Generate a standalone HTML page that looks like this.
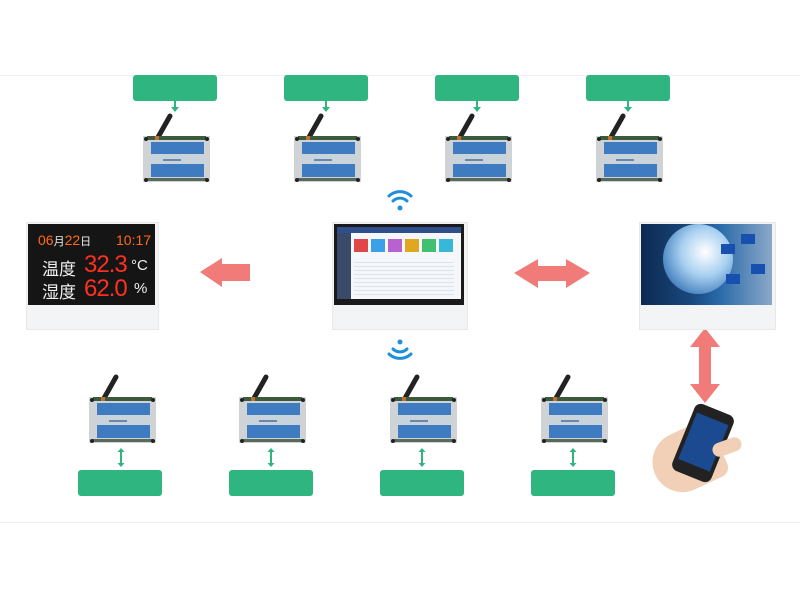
<!DOCTYPE html>
<html><head><meta charset="utf-8"><style>
body{margin:0;width:800px;height:600px;background:#fff;position:relative;overflow:hidden;font-family:"Liberation Sans","Noto Sans CJK SC",sans-serif}
.a{position:absolute}
.g{position:absolute;background:#2fb57f;border-radius:3px;width:84px;height:26px}
.line{position:absolute;left:0;width:800px;height:1px;background:#eef0f0}
</style></head><body>
<div class="line" style="top:75px"></div>
<div class="line" style="top:522px"></div>

<svg width="800" height="600" class="a" style="left:0;top:0">
<defs>
<g id="dev">
 <line x1="14" y1="27" x2="27" y2="4" stroke="#222" stroke-width="5" stroke-linecap="round"/>
 <rect x="0" y="24" width="67" height="46" fill="#cfd3d6" rx="1"/>
 <rect x="4" y="24" width="59" height="4" fill="#3c5a3c"/>
 <rect x="12" y="24" width="4" height="4" fill="#c07030"/>
 <rect x="8" y="30" width="53" height="12" fill="#3f7bc0"/>
 <rect x="8" y="42" width="53" height="10" fill="#c9d3dc"/>
 <rect x="20" y="47" width="18" height="2" fill="#6a86a8"/>
 <rect x="8" y="52" width="53" height="13" fill="#3f7bc0"/>
 <rect x="4" y="66" width="59" height="3" fill="#5a6a5a"/>
 <circle cx="3" cy="27" r="2" fill="#222"/><circle cx="64" cy="27" r="2" fill="#222"/>
 <circle cx="3" cy="68" r="2" fill="#222"/><circle cx="64" cy="68" r="2" fill="#222"/>
</g>
<g id="darr"><line x1="0" y1="3" x2="0" y2="16" stroke="#2fb57f" stroke-width="2"/><path d="M-3.5,4 L0,0 L3.5,4Z M-3.5,15 L0,19 L3.5,15Z" fill="#2fb57f"/></g>
</defs>
<!-- top devices -->
<use href="#dev" x="143" y="112"/><use href="#dev" x="294" y="112"/><use href="#dev" x="445" y="112"/><use href="#dev" x="596" y="112"/>
<!-- bottom devices -->
<use href="#dev" x="89" y="373"/><use href="#dev" x="239" y="373"/><use href="#dev" x="390" y="373"/><use href="#dev" x="541" y="373"/>
<!-- top down arrows -->
<g fill="#2fb57f" stroke="#2fb57f" stroke-width="2">
<line x1="175" y1="101" x2="175" y2="108"/><line x1="326" y1="101" x2="326" y2="108"/><line x1="477" y1="101" x2="477" y2="108"/><line x1="628" y1="101" x2="628" y2="108"/>
</g>
<g fill="#2fb57f"><path d="M171,107 L179,107 L175,112Z M322,107 L330,107 L326,112Z M473,107 L481,107 L477,112Z M624,107 L632,107 L628,112Z"/></g>
<use href="#darr" x="121" y="448"/><use href="#darr" x="271" y="448"/><use href="#darr" x="422" y="448"/><use href="#darr" x="573" y="448"/>
<!-- red arrows -->
<path d="M200,272 L222,258 L222,264 L250,264 L250,281 L222,281 L222,287Z" fill="#f07b78"/>
<path d="M514,273 L538,259 L538,266 L566,266 L566,259 L590,273 L566,288 L566,281 L538,281 L538,288Z" fill="#f07b78"/>
<path d="M705,328 L720,347 L711,347 L711,384 L720,384 L705,403 L690,384 L699,384 L699,347 L690,347Z" fill="#f07b78"/>
<!-- wifi -->
<g fill="none" stroke="#1e8fd8" stroke-width="3" stroke-linecap="round">
<path d="M389,196 A16,16 0 0 1 411,196"/><path d="M393,201 A10,10 0 0 1 407,201"/>
<path d="M389,354 A16,16 0 0 0 411,354"/><path d="M393,349 A10,10 0 0 0 407,349"/>
</g>
<circle cx="400" cy="208" r="2.5" fill="#1e8fd8"/><circle cx="400" cy="342" r="2.5" fill="#1e8fd8"/>
</svg>

<div class="g" style="left:133px;top:75px"></div><div class="g" style="left:284px;top:75px"></div><div class="g" style="left:435px;top:75px"></div><div class="g" style="left:586px;top:75px"></div>
<div class="g" style="left:78px;top:470px"></div><div class="g" style="left:229px;top:470px"></div><div class="g" style="left:380px;top:470px"></div><div class="g" style="left:531px;top:470px"></div>

<!-- LED display -->
<div class="a" style="left:26px;top:222px;width:131px;height:106px;background:#f3f4f5;border:1px solid #e8e8e8"></div>
<div class="a" style="left:28px;top:224px;width:127px;height:81px;background:#151515;color:#f0f0f0">
 <div class="a" style="left:10px;top:8px;font-size:14px;color:#ff6a1a;white-space:nowrap">06<span style="font-size:11px;color:#eee">月</span>22<span style="font-size:11px;color:#eee">日</span></div>
 <div class="a" style="left:88px;top:8px;font-size:14px;color:#ff6a1a">10:17</div>
 <div class="a" style="left:14px;top:31px;font-size:17px">温度</div>
 <div class="a" style="left:56px;top:27px;font-size:24px;color:#ff3020;letter-spacing:-1px">32.3</div>
 <div class="a" style="left:103px;top:33px;font-size:15px">°C</div>
 <div class="a" style="left:14px;top:54px;font-size:17px">湿度</div>
 <div class="a" style="left:56px;top:51px;font-size:24px;color:#ff3020;letter-spacing:-1px">62.0</div>
 <div class="a" style="left:106px;top:56px;font-size:15px">%</div>
</div>

<!-- center tablet -->
<div class="a" style="left:332px;top:222px;width:134px;height:106px;background:#f3f4f5;border:1px solid #e8e8e8"></div>
<div class="a" style="left:334px;top:224px;width:130px;height:81px;background:#1a1a1a">
 <div class="a" style="left:3px;top:3px;width:124px;height:72px;background:#f5f7fa"></div>
 <div class="a" style="left:3px;top:3px;width:124px;height:6px;background:#2f4e8c"></div>
 <div class="a" style="left:3px;top:9px;width:14px;height:66px;background:#3a4a6a"></div>
 <div class="a" style="left:20px;top:15px;width:14px;height:13px;background:#e04848"></div>
 <div class="a" style="left:37px;top:15px;width:14px;height:13px;background:#3aa0e8"></div>
 <div class="a" style="left:54px;top:15px;width:14px;height:13px;background:#b862d0"></div>
 <div class="a" style="left:71px;top:15px;width:14px;height:13px;background:#e0a820"></div>
 <div class="a" style="left:88px;top:15px;width:14px;height:13px;background:#40c070"></div>
 <div class="a" style="left:105px;top:15px;width:14px;height:13px;background:#38b8d8"></div>
 <div class="a" style="left:20px;top:35px;width:100px;height:36px;background:repeating-linear-gradient(#f5f7fa 0 3px,#dde3ea 3px 4px)"></div>
</div>

<!-- right screen -->
<div class="a" style="left:639px;top:222px;width:135px;height:106px;background:#f3f4f5;border:1px solid #e8e8e8"></div>
<div class="a" style="left:641px;top:224px;width:131px;height:81px;background:linear-gradient(90deg,#0c2a50,#1a4a80 40%,#2a6aa8 60%,#8aa8c8);overflow:hidden">
 <div class="a" style="left:22px;top:0px;width:70px;height:70px;border-radius:50%;background:radial-gradient(circle at 60% 40%,#ffffff,#a8d0f0 40%,#3a78b8 80%)"></div>
 <div class="a" style="left:80px;top:20px;width:14px;height:10px;background:#1850b0"></div>
 <div class="a" style="left:100px;top:10px;width:14px;height:10px;background:#1850b0"></div>
 <div class="a" style="left:110px;top:40px;width:14px;height:10px;background:#1850b0"></div>
 <div class="a" style="left:85px;top:50px;width:14px;height:10px;background:#1850b0"></div>
</div>

<!-- phone -->
<div class="a" style="left:652px;top:430px;width:70px;height:60px;background:#f2d0b8;border-radius:30px 10px 10px 30px;transform:rotate(-25deg)"></div>
<div class="a" style="left:682px;top:407px;width:42px;height:72px;background:#222;border-radius:7px;transform:rotate(22deg)">
 <div class="a" style="left:4px;top:10px;width:34px;height:50px;background:#1c4a90"></div>
</div>
<div class="a" style="left:712px;top:440px;width:30px;height:14px;background:#f2d0b8;border-radius:7px;transform:rotate(-20deg)"></div>
</body></html>
